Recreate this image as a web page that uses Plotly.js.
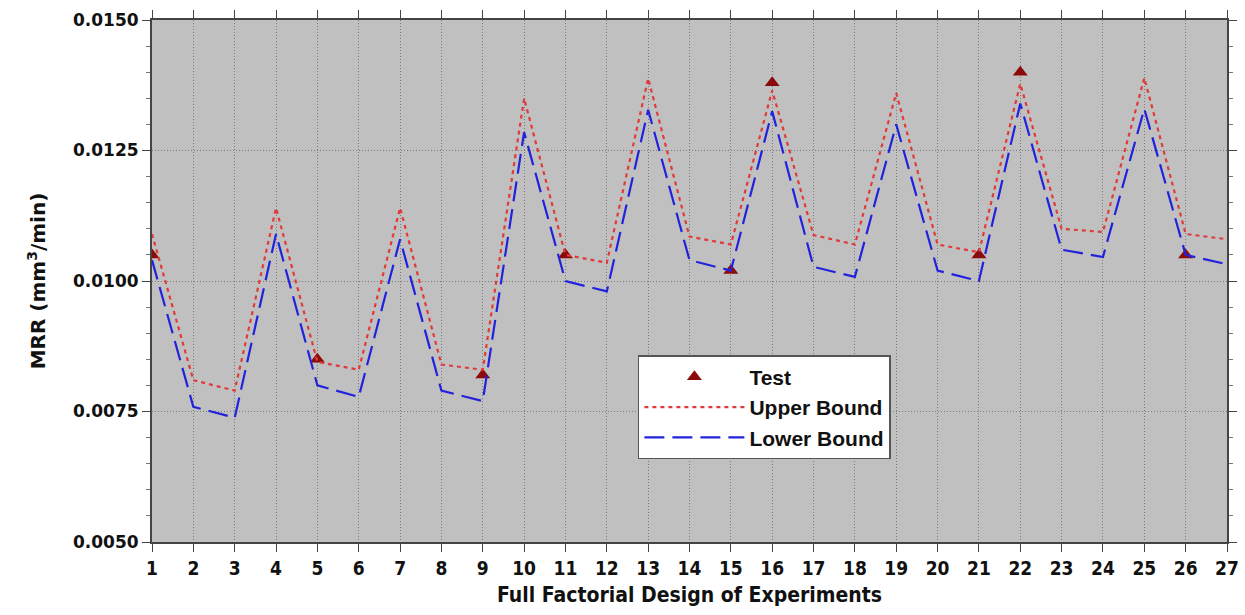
<!DOCTYPE html>
<html>
<head>
<meta charset="utf-8">
<script src="https://cdn.plot.ly/plotly-3.0.1.min.js"></script>
<style>html,body{margin:0;padding:0;background:#fff;}#chart{width:1245px;height:615px;}</style>
</head>
<body>
<div id="chart"></div>
<script>
const experiments = [1,2,3,4,5,6,7,8,9,10,11,12,13,14,15,16,17,18,19,20,21,22,23,24,25,26,27];
const upperBound = [0.0109,0.0081,0.0079,0.0114,0.00845,0.0083,0.0114,0.0084,0.0083,0.01350,0.0105,0.01035,0.01388,0.01085,0.0107,0.01365,0.01088,0.0107,0.0136,0.0107,0.01055,0.01378,0.0110,0.01094,0.01389,0.0109,0.0108];
const lowerBound = [0.0104,0.00759,0.00738,0.0109,0.0080,0.00778,0.0108,0.0079,0.0077,0.01285,0.0100,0.0098,0.01328,0.0104,0.01020,0.01325,0.01027,0.01008,0.0130,0.0102,0.0100,0.0134,0.0106,0.01046,0.0133,0.0105,0.01032];
const testRuns = [1,5,9,11,15,16,21,22,26];
const testValues = [0.0105,0.0085,0.0082,0.0105,0.0102,0.0138,0.0105,0.0140,0.0105];
const xTickLabels = experiments.map(String);
const yTickVals = [0.0050,0.0075,0.0100,0.0125,0.0150];
const yTickText = ["0.0050","0.0075","0.0100","0.0125","0.0150"];

const traces = [
  {x: testRuns, y: testValues, name: 'Test', mode: 'markers', type: 'scatter',
   marker: {symbol: 'triangle-up', size: 13, color: '#8b0a0a'}},
  {x: experiments, y: upperBound, name: 'Upper Bound', mode: 'lines', type: 'scatter',
   line: {color: '#e03a3a', width: 2.2, dash: '4px,4px'}},
  {x: experiments, y: lowerBound, name: 'Lower Bound', mode: 'lines', type: 'scatter',
   line: {color: '#2222dd', width: 2.2, dash: '20px,8px'}}
];

const condensed = '"DejaVu Sans Condensed", "Liberation Sans Narrow", "DejaVu Sans", sans-serif';
const wide = '"DejaVu Sans", Verdana, sans-serif';
const layout = {
  width: 1245, height: 615,
  margin: {l: 152, r: 18, t: 20, b: 73},
  paper_bgcolor: '#ffffff',
  plot_bgcolor: '#c0c0c0',
  showlegend: true,
  legend: {
    x: 0.452, y: 0.358, xanchor: 'left', yanchor: 'top',
    bgcolor: '#ffffff', bordercolor: '#555', borderwidth: 1.5,
    font: {family: 'Liberation Sans, Arial, sans-serif', size: 21, color: '#111', weight: 'bold'},
    itemwidth: 100, tracegroupgap: 0
  },
  xaxis: {
    range: [1, 27], tickmode: 'array', tickvals: experiments, ticktext: xTickLabels,
    ticks: 'outside', ticklen: 8, tickcolor: '#444', tickwidth: 1,
    showline: true, linecolor: '#444', linewidth: 2, mirror: 'ticks',
    showgrid: true, gridcolor: '#7a7a7a', gridwidth: 1, griddash: '1px,2px',
    zeroline: false,
    tickfont: {family: condensed, size: 19, color: '#111', weight: 'bold'},
    title: {text: 'Full Factorial Design of Experiments', standoff: 10,
            font: {family: condensed, size: 21, color: '#111', weight: 'bold'}}
  },
  yaxis: {
    range: [0.0050, 0.0150], tickmode: 'array', tickvals: yTickVals, ticktext: yTickText,
    ticks: 'outside', ticklen: 8, tickcolor: '#444', tickwidth: 1,
    showline: true, linecolor: '#444', linewidth: 2, mirror: 'ticks',
    showgrid: true, gridcolor: '#7a7a7a', gridwidth: 1, griddash: '1px,2px',
    zeroline: false,
    minor: {dtick: 0.0005, ticks: 'outside', ticklen: 4, tickcolor: '#777', showgrid: false},
    tickfont: {family: wide, size: 17, color: '#111', weight: 'bold'},
    title: {text: 'MRR (mm<sup>3</sup>/min)', standoff: 22,
            font: {family: wide, size: 20, color: '#111', weight: 'bold'}}
  }
};

Plotly.newPlot('chart', traces, layout, {displayModeBar: false, staticPlot: true});
</script>
</body>
</html>
